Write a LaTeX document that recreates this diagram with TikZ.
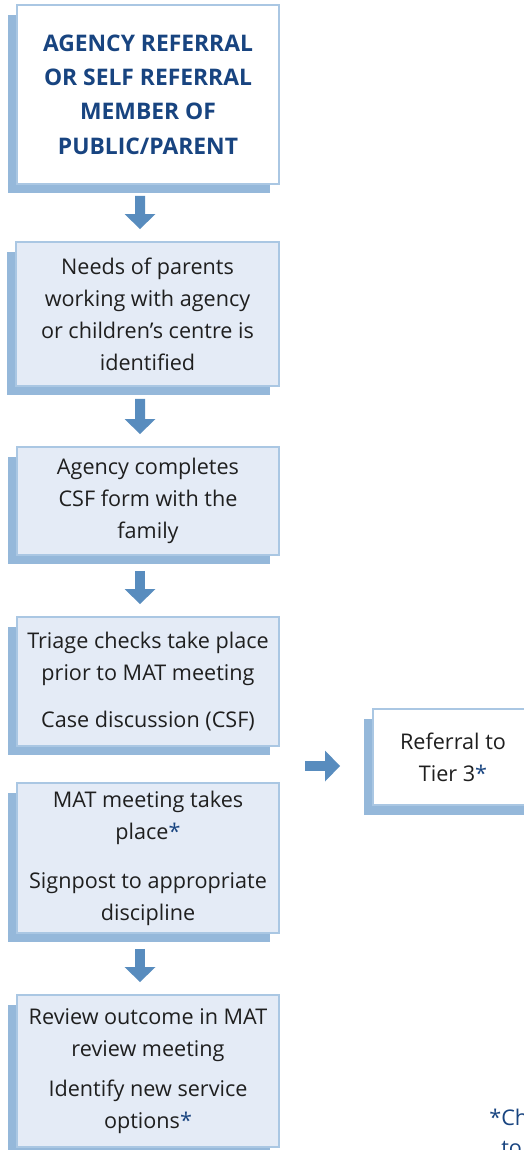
\documentclass[tikz,border=0pt]{standalone}
\usepackage{fontspec}
\setmainfont{Open Sans}
\usepackage{xcolor}
\usetikzlibrary{arrows.meta,positioning,shadows}

\definecolor{edgeblue}{RGB}{170,199,227}
\definecolor{shadeblue}{RGB}{149,184,218}
\definecolor{fillblue}{RGB}{228,235,246}
\definecolor{arrowblue}{RGB}{88,140,190}
\definecolor{titleblue}{RGB}{24,68,128}
\newcommand{\bluestar}{{\color{titleblue}*}}

\begin{document}
\begin{tikzpicture}[
    x=0.02cm, y=-0.02cm,
    basebox/.style={draw=edgeblue, line width=1.1pt, align=center, inner sep=0pt, text=black!88, font=\fontsize{12.3}{18.2}\selectfont, drop shadow={shadow xshift=-0.18cm, shadow yshift=-0.19cm, fill=shadeblue, opacity=1}},
    startbox/.style={basebox, fill=white, text=titleblue, font=\fontsize{13}{19.6}\selectfont\bfseries},
    flowbox/.style={basebox, fill=fillblue},
    blockarrow/.style={-{Triangle[length=0.3cm, width=0.6cm]}, line width=0.2cm, draw=arrowblue},
    notetext/.style={anchor=base west, inner sep=0pt, text=titleblue, font=\fontsize{12.3}{18.2}\selectfont}
]
    \useasboundingbox (0,0) rectangle (524,1150);
    \clip (0,0) rectangle (524,1150);

    % Entry point
    \node[startbox, minimum width=5.24cm, minimum height=3.58cm] (agency) at (148, 94.5) {AGENCY REFERRAL\\OR SELF REFERRAL\\MEMBER OF\\PUBLIC/PARENT};

    % Main flow
    \node[flowbox, minimum width=5.26cm, minimum height=2.88cm] (needs) at (147.5, 314) {Needs of parents\\working with agency\\or children’s centre is\\identified};
    \node[flowbox, minimum width=5.24cm, minimum height=2.16cm] (csf) at (148, 501) {Agency completes\\CSF form with the\\family};
    \node[flowbox, minimum width=5.24cm, minimum height=2.58cm] (triage) at (148, 681.5) {Triage checks take place\\prior to MAT meeting\\[0.32cm]Case discussion (CSF)};
    \node[flowbox, minimum width=5.24cm, minimum height=3.0cm] (matmeet) at (148, 858) {MAT meeting takes\\place\bluestar\\[0.34cm]Signpost to appropriate\\discipline};
    \node[flowbox, minimum width=5.24cm, minimum height=3.04cm] (review) at (148, 1071) {Review outcome in MAT\\review meeting\\[0.16cm]Identify new service\\options\bluestar};

    % Side branch
    \node[basebox, fill=white, minimum width=3.2cm, minimum height=1.92cm] (tierthree) at (453, 757) {Referral to\\Tier 3\bluestar};
    \coordinate (branch) at (305, 766);

    % Footnote
    \node[notetext] (note) at (489, 1125) {*Ch};
    \node[notetext] (noteb) at (501, 1155) {to};

    % Connections
    \draw[blockarrow, shorten <=0.22cm, shorten >=0.24cm] ([xshift=-0.16cm]agency.south) -- ([xshift=-0.15cm]needs.north);
    \draw[blockarrow, shorten <=0.24cm, shorten >=0.24cm] ([xshift=-0.15cm]needs.south) -- ([xshift=-0.16cm]csf.north);
    \draw[blockarrow, shorten <=0.3cm, shorten >=0.24cm] ([xshift=-0.16cm]csf.south) -- ([xshift=-0.16cm]triage.north);
    \draw[blockarrow, shorten <=0.3cm, shorten >=0.24cm] ([xshift=-0.16cm]matmeet.south) -- ([xshift=-0.16cm]review.north);
    \draw[blockarrow, shorten >=0.64cm] (branch) -- (branch -| tierthree.west);

\end{tikzpicture}
\end{document}
